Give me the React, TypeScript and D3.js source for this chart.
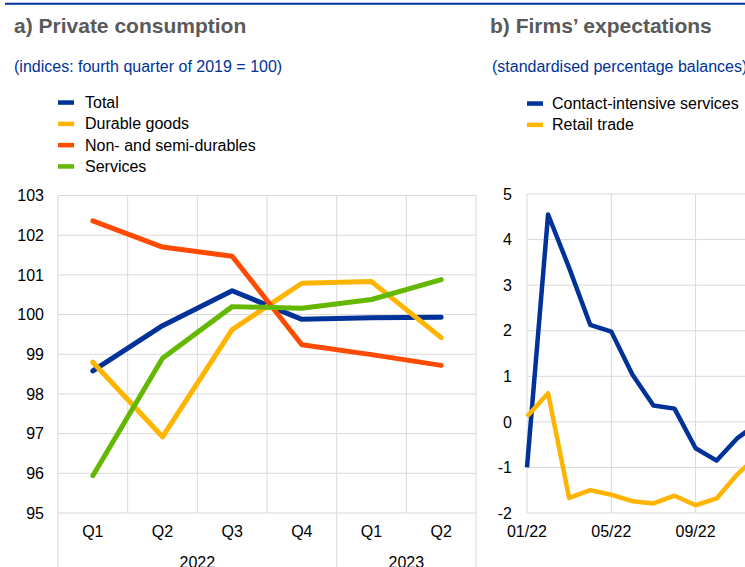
import React from "react";
import * as d3 from "d3";

// ---- Panel a) data ----
const quarters = ["Q1", "Q2", "Q3", "Q4", "Q1", "Q2"];
const years = ["2022", "2023"];
const yearSpans = [4, 2];
const totalValues = [98.58, 99.72, 100.6, 99.88, 99.92, 99.93];
const durableValues = [98.8, 96.92, 99.62, 100.79, 100.83, 99.42];
const nonDurableValues = [102.36, 101.7, 101.47, 99.24, 98.99, 98.72];
const servicesValues = [95.94, 98.9, 100.2, 100.16, 100.38, 100.88];
const leftTicks = [95, 96, 97, 98, 99, 100, 101, 102, 103];

// ---- Panel b) data ----
const months = ["01/22", "02/22", "03/22", "04/22", "05/22", "06/22", "07/22", "08/22", "09/22", "10/22", "11/22", "12/22"];
const contactValues = [-1.0, 4.55, 3.38, 2.13, 1.98, 1.04, 0.36, 0.29, -0.58, -0.85, -0.35, -0.02];
const retailValues = [0.12, 0.63, -1.67, -1.5, -1.6, -1.74, -1.79, -1.62, -1.83, -1.68, -1.14, -0.72];
const rightTicks = [-2, -1, 0, 1, 2, 3, 4, 5];
const monthTickLabels = ["01/22", "05/22", "09/22", "01/23"];

const BLUE = "#003299";
const YELLOW = "#ffb400";
const RED = "#ff4b00";
const GREEN = "#65b800";
const GRID = "#d9d9d9";
const FONT = "'Liberation Sans', Arial, sans-serif";

const leftSeries = [
  { name: "Total", color: BLUE, values: totalValues },
  { name: "Durable goods", color: YELLOW, values: durableValues },
  { name: "Non- and semi-durables", color: RED, values: nonDurableValues },
  { name: "Services", color: GREEN, values: servicesValues },
];
const rightSeries = [
  { name: "Contact-intensive services", color: BLUE, values: contactValues },
  { name: "Retail trade", color: YELLOW, values: retailValues },
];

export default function App() {
  const W = 745;
  const H = 567;
  const top = 195.5;
  const bottom = 513;

  // left scales
  const xL = d3.scaleBand<number>().domain(d3.range(quarters.length)).range([58, 476]).padding(0);
  const yL = d3.scaleLinear().domain([95, 103]).range([bottom, top]);
  const lineL = d3
    .line<number>()
    .x((_, i) => (xL(i) as number) + xL.bandwidth() / 2)
    .y((d) => yL(d));

  // right scales
  const xR = d3.scaleLinear().domain([0, 4]).range([527, 611.3]);
  const yR = d3.scaleLinear().domain([-2, 5]).range([bottom, top - 1.5]);
  const lineR = d3
    .line<number>()
    .x((_, i) => xR(i))
    .y((d) => yR(d));

  const yearBounds: number[] = [];
  let acc = 0;
  yearBounds.push(0);
  yearSpans.forEach((s) => {
    acc += s;
    yearBounds.push(acc);
  });
  const xEdge = (i: number) => (i < quarters.length ? (xL(i) as number) : 476);

  return (
    <svg
      width={W}
      height={H}
      style={{ position: "absolute", left: 0, top: 0, background: "#fff" }}
      fontFamily={FONT}
    >
      <rect x={0} y={0} width={W} height={H} fill="#fff" />
      <line x1={5} x2={W} y1={3.7} y2={3.7} stroke={BLUE} strokeWidth={2} />

      {/* Titles */}
      <text x={14} y={33} fontSize={21} fontWeight="bold" fill="#5a5a5a">a) Private consumption</text>
      <text x={490} y={33} fontSize={21} fontWeight="bold" fill="#5a5a5a">b) Firms’ expectations</text>
      <text x={14} y={72} fontSize={16} fill={BLUE}>(indices: fourth quarter of 2019 = 100)</text>
      <text x={492} y={72} fontSize={16} fill={BLUE}>(standardised percentage balances)</text>

      {/* Legends */}
      {leftSeries.map((s, i) => (
        <g key={s.name} transform={`translate(0, ${102.3 + i * 21.3})`}>
          <rect x={58} y={-2} width={16} height={4.5} fill={s.color} />
          <text x={85} y={0} dy="0.36em" fontSize={16} fill="#000">{s.name}</text>
        </g>
      ))}
      {rightSeries.map((s, i) => (
        <g key={s.name} transform={`translate(0, ${103.3 + i * 21.3})`}>
          <rect x={527} y={-2} width={16} height={4.5} fill={s.color} />
          <text x={552} y={0} dy="0.36em" fontSize={16} fill="#000">{s.name}</text>
        </g>
      ))}

      {/* Left grid */}
      {leftTicks.map((t) => (
        <g key={"ly" + t}>
          <line x1={58} x2={476} y1={yL(t)} y2={yL(t)} stroke={GRID} strokeWidth={1} />
          <text x={44} y={yL(t)} dy="0.36em" textAnchor="end" fontSize={16} fill="#000">{t}</text>
        </g>
      ))}
      {d3.range(quarters.length + 1).map((i) => {
        const isYear = yearBounds.includes(i);
        return (
          <line
            key={"lx" + i}
            x1={xEdge(i)}
            x2={xEdge(i)}
            y1={top}
            y2={isYear ? H : bottom}
            stroke={GRID}
            strokeWidth={1}
          />
        );
      })}
      {quarters.map((q, i) => (
        <text key={"q" + i} x={(xL(i) as number) + xL.bandwidth() / 2} y={537} textAnchor="middle" fontSize={16} fill="#000">{q}</text>
      ))}
      {years.map((yr, k) => (
        <text
          key={yr}
          x={(xEdge(yearBounds[k]) + xEdge(yearBounds[k + 1])) / 2}
          y={567.5}
          textAnchor="middle"
          fontSize={16}
          fill="#000"
        >
          {yr}
        </text>
      ))}

      {/* Right grid */}
      {rightTicks.map((t) => (
        <g key={"ry" + t}>
          <line x1={527} x2={W} y1={yR(t)} y2={yR(t)} stroke={GRID} strokeWidth={1} />
          <text x={512} y={yR(t)} dy="0.36em" textAnchor="end" fontSize={16} fill="#000">{t}</text>
        </g>
      ))}
      {monthTickLabels.map((m, k) => (
        <g key={"rx" + m}>
          <line x1={xR(k * 4)} x2={xR(k * 4)} y1={yR(5)} y2={bottom} stroke={GRID} strokeWidth={1} />
          <text x={xR(k * 4)} y={537} textAnchor="middle" fontSize={16} fill="#000">{m}</text>
        </g>
      ))}

      {/* Left lines */}
      {leftSeries.map((s) => (
        <path
          key={"lp" + s.name}
          d={lineL(s.values) || ""}
          fill="none"
          stroke={s.color}
          strokeWidth={5}
          strokeLinejoin="round"
          strokeLinecap="round"
        />
      ))}

      {/* Right lines */}
      {rightSeries.map((s) => (
        <path
          key={"rp" + s.name}
          d={lineR(s.values) || ""}
          fill="none"
          stroke={s.color}
          strokeWidth={4.5}
          strokeLinejoin="round"
          strokeLinecap="butt"
        />
      ))}
    </svg>
  );
}
